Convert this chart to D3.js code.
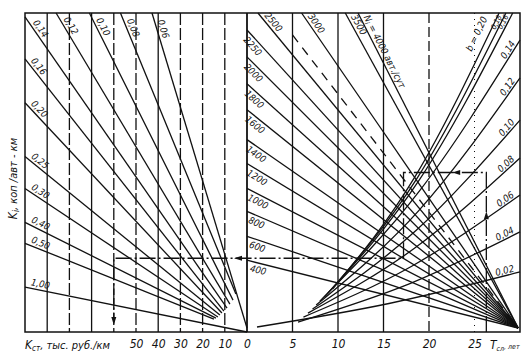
<!DOCTYPE html>
<html>
<head>
<meta charset="utf-8">
<script src="https://cdn.jsdelivr.net/npm/d3@7"></script>
<style>
  body { margin: 0; background: #fff; }
  svg { display: block; }
  text { font-family: "DejaVu Sans Condensed", "DejaVu Sans", sans-serif; font-style: italic; fill: #111; }
</style>
</head>
<body>
<svg id="chart" width="532" height="361"></svg>
<script>
// --- left panel: K_ст (thousand rub/km), lines for each coefficient ---
const kstTicks = [50, 40, 30, 20, 10, 0];
const kstGrid = [90, 80, 70, 60, 50, 40, 30, 20, 10];
const kstGridDash = [false, true, false, true, true, false, true, true, true];
const fanLabels = ["0,06", "0,08", "0,10", "0,12", "0,14", "0,16", "0,20", "0,25", "0,30", "0,40", "0,50", "1,00"];
const fanStartKst = [42.8, 57, 71, 86, 100, 100, 100, 100, 100, 100, 100, 100];
const fanStartK = [16, 16, 16, 16, 15.8, 13.7, 11.5, 8.8, 7.2, 5.5, 4.45, 2.25];
const fanEndKst = [0, 5, 6.3, 7.7, 9, 10.4, 11.3, 12.2, 13.1, 14, 14.9, 0];
const fanEndK = [0.2, 1.9, 1.6, 1.4, 1.2, 1.05, 0.95, 0.85, 0.75, 0.7, 0.65, 0];

// --- right panel: T_сл (years), N lines (traffic) and b curves ---
const tTicks = [5, 10, 15, 20, 25];
const tGridDash = ["none", "none", "none", "10,4", "1,5"];
const nLabels = ["2500", "2250", "2000", "1800", "1600", "1400", "1200", "1000", "800", "600", "400", "3000", "3500", "4000"];
const nStartT = [1.2, 0, 0, 0, 0, 0, 0, 0, 0, 0, 0, 6.0, 10.8, 12.2];
const nStartK = [16, 15.15, 13.8, 12.45, 11.15, 9.65, 8.45, 7.2, 6.05, 4.8, 3.6, 16, 16, 16];
const nEndT = 29.8, nEndK = 0.2;
const nDashStartT = 5.0, nDashStartK = 14.9;

const bLabels = ["0,02", "0,04", "0,06", "0,08", "0,10", "0,12", "0,14", "0,16", "0,18", "b = 0,20"];
const bT0 = [1.1, 5.6, 6.2, 6.7, 7.2, 7.6, 8.0, 8.5, 8.9, 9.4];
const bK0 = [0.25, 0.5, 0.75, 0.95, 1.15, 1.35, 1.55, 1.75, 1.95, 2.15];
const bTm = [15.6, 17.9, 18.1, 18.4, 18.6, 18.9, 19.0, 18.9, 18.7, 18.5];
const bKm = [1.43, 2.43, 3.3, 4.2, 5.1, 6.1, 7.1, 7.6, 7.72, 7.82];
const bT1 = [30, 30, 30, 30, 30, 30, 30, 29.2, 28.45, 27.7];
const bK1 = [3.01, 5.02, 6.87, 8.73, 10.63, 12.74, 14.64, 16, 16, 16];

// worked example (key path)
const exT = 26.3, exTb = 17.2, exK1 = 8.0, exK2 = 3.7, exKst = 60, exKend = 0.5;

const svg = d3.select("#chart");
const xL = d3.scaleLinear().domain([100, 0]).range([25, 247]);
const xR = d3.scaleLinear().domain([0, 30]).range([247, 520]);
const y = d3.scaleLinear().domain([0, 16]).range([332, 13]);
const yTop = y(16), yBot = y(0);

const ink = "#111";
const g = svg.append("g");

// grid verticals
kstGrid.forEach((v, i) => {
  g.append("line").attr("x1", xL(v)).attr("x2", xL(v)).attr("y1", yTop).attr("y2", yBot)
    .attr("stroke", ink).attr("stroke-width", 1.3)
    .attr("stroke-dasharray", kstGridDash[i] ? "12,3" : null);
});
tTicks.forEach((v, i) => {
  g.append("line").attr("x1", xR(v)).attr("x2", xR(v)).attr("y1", yTop).attr("y2", yBot)
    .attr("stroke", ink).attr("stroke-width", i === 4 ? 1 : 1.3)
    .attr("stroke-dasharray", tGridDash[i] === "none" ? null : tGridDash[i]);
});

// frame + middle axis
g.append("rect").attr("x", xL(100)).attr("y", yTop).attr("width", xR(30) - xL(100)).attr("height", yBot - yTop)
  .attr("fill", "none").attr("stroke", ink).attr("stroke-width", 1.5);
g.append("line").attr("x1", xR(0)).attr("x2", xR(0)).attr("y1", yTop).attr("y2", yBot)
  .attr("stroke", ink).attr("stroke-width", 1.8);

const line = d3.line();
const labelG = svg.append("g").attr("font-size", 9.5);

function labelAlong(node, dist, anchor, dy, txt) {
  const L = node.getTotalLength();
  const d0 = dist < 0 ? L + dist : dist;
  const p = node.getPointAtLength(d0);
  const p1 = node.getPointAtLength(Math.max(0, d0 - 3));
  const p2 = node.getPointAtLength(Math.min(L, d0 + 3));
  const a = Math.atan2(p2.y - p1.y, p2.x - p1.x) * 180 / Math.PI;
  return labelG.append("text")
    .attr("transform", `translate(${p.x},${p.y}) rotate(${a})`)
    .attr("dy", dy).attr("text-anchor", anchor).text(txt);
}

// left fan
fanLabels.forEach((lab, i) => {
  const p = g.append("path")
    .attr("d", line([[xL(fanStartKst[i]), y(fanStartK[i])], [xL(fanEndKst[i]), y(fanEndK[i])]]))
    .attr("fill", "none").attr("stroke", ink).attr("stroke-width", 1.3);
  labelAlong(p.node(), fanStartK[i] >= 15.8 ? 9 : 5, "start", -3, lab);
});

// N lines
nLabels.forEach((lab, i) => {
  const p = g.append("path")
    .attr("d", line([[xR(nStartT[i]), y(nStartK[i])], [xR(nEndT), y(nEndK)]]))
    .attr("fill", "none").attr("stroke", ink).attr("stroke-width", 1.3);
  const fromTop = nStartK[i] === 16;
  if (lab === "4000") {
    const t = labelAlong(p.node(), 6, "start", -3, "");
    t.append("tspan").text("N");
    t.append("tspan").attr("font-size", 7).attr("dy", 2).text("i");
    t.append("tspan").attr("dy", -2).text(" = 4000 авт./сут");
  } else {
    labelAlong(p.node(), fromTop ? 6 : 5, "start", fromTop ? -3 : 10, lab);
  }
});
g.append("path")
  .attr("d", line([[xR(nDashStartT), y(nDashStartK)], [xR(nEndT), y(nEndK)]]))
  .attr("fill", "none").attr("stroke", ink).attr("stroke-width", 1.3).attr("stroke-dasharray", "9,7");

// b curves
const curve = d3.line().curve(d3.curveNatural);
bLabels.forEach((lab, i) => {
  const p = g.append("path")
    .attr("d", curve([[xR(bT0[i]), y(bK0[i])], [xR(bTm[i]), y(bKm[i])], [xR(bT1[i]), y(bK1[i])]]))
    .attr("fill", "none").attr("stroke", ink).attr("stroke-width", 1.3);
  const last = i === bLabels.length - 1;
  const t = labelAlong(p.node(), last ? -10 : -5, "end", last ? -8 : -2, lab);
  if (bK1[i] === 16 && !last) t.attr("font-size", 7.5);
});

// worked example path
const ex = svg.append("g").attr("fill", "none").attr("stroke", ink).attr("stroke-width", 1.3)
  .attr("stroke-dasharray", "16,3,2,3");
ex.append("path").attr("d", line([[xR(exT), y(0)], [xR(exT), y(exK1)], [xR(exTb), y(exK1)], [xR(exTb), y(exK2)], [xL(exKst), y(exK2)], [xL(exKst), y(exKend)]]));

function arrow(x, yy, dir) {
  const rot = { up: 0, right: 90, down: 180, left: 270 }[dir];
  svg.append("path").attr("d", "M0,-5L2.5,3L-2.5,3Z").attr("fill", ink)
    .attr("transform", `translate(${x},${yy}) rotate(${rot})`);
}
arrow(xR(exT), y(5.8), "up");
arrow(xR(23.1), y(exK1), "left");
arrow(xR(0) - 8, y(exK2), "left");
arrow(xL(exKst), y(exKend) - 2, "down");

// bottom axes (labels only)
const axG = svg.append("g").attr("font-size", 12);
[xL, xR].forEach((sc, k) => {
  axG.append("g").attr("transform", `translate(0,${yBot + 4})`)
    .call(d3.axisBottom(sc).tickValues(k === 0 ? kstTicks : tTicks).tickSize(0).tickFormat(d3.format("d")))
    .call(s => s.select(".domain").remove())
    .call(s => s.selectAll("text").attr("font-family", null).attr("font-size", 12).attr("fill", ink));
});

const kt = axG.append("text").attr("x", xL(100)).attr("y", yBot + 17).attr("font-size", 11);
kt.append("tspan").attr("font-size", 12).text("K");
kt.append("tspan").attr("font-size", 8).attr("dy", 2).text("ст");
kt.append("tspan").attr("dy", -2).text(", тыс. руб./км");

const tt = axG.append("text").attr("x", xR(26.7)).attr("y", yBot + 17).attr("font-size", 12);
tt.append("tspan").text("T");
tt.append("tspan").attr("font-size", 7).attr("dy", 2).text("сл");
tt.append("tspan").attr("font-size", 7).attr("dy", -2).text(", лет");

const yt = axG.append("text").attr("transform", `translate(17,${y(7.7)}) rotate(-90)`)
  .attr("text-anchor", "middle").attr("font-size", 11);
yt.append("tspan").attr("font-size", 12).text("K");
yt.append("tspan").attr("font-size", 8).attr("dy", 2).text("i");
yt.append("tspan").attr("dy", -2).text(", коп /авт - км");
</script>
</body>
</html>
